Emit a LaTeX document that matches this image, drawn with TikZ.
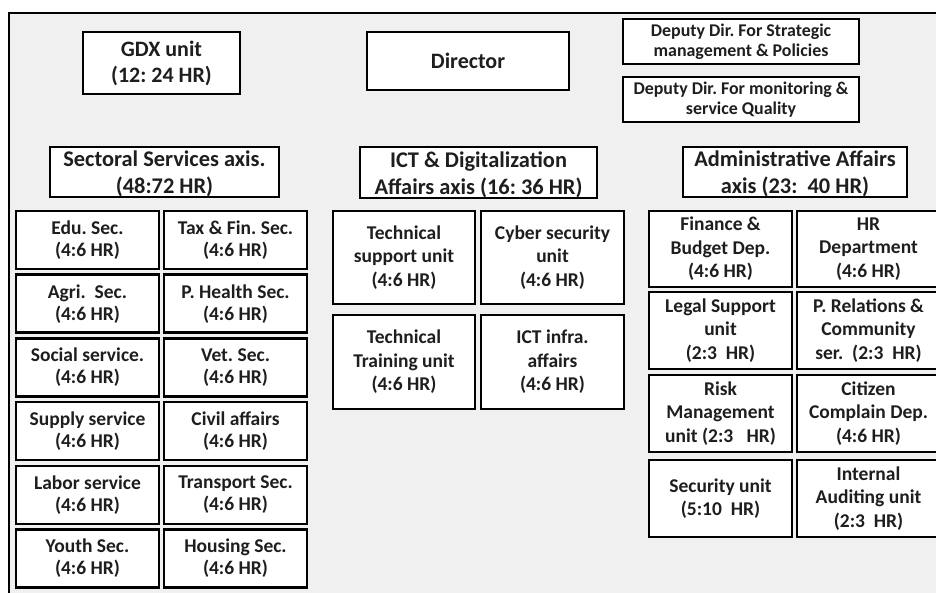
\documentclass[tikz,border=0pt]{standalone}
\usepackage{fontspec}
\setmainfont{Carlito}
\frenchspacing
\definecolor{panel}{HTML}{F0F0F0}
\definecolor{ink}{HTML}{1E1E1E}
\tikzset{
  unitbox/.style={draw=black, line width=2.5pt, fill=white, text=ink,
    align=center, inner sep=0pt, font=\bfseries},
  cellL/.style={unitbox, minimum width=143pt, minimum height=58pt,
    font=\fontsize{19.5}{22}\selectfont\bfseries},
  cellR/.style={unitbox, minimum width=143pt, minimum height=77pt,
    font=\fontsize{19.5}{23.5}\selectfont\bfseries},
  cellM/.style={unitbox, minimum width=142pt, minimum height=93pt,
    font=\fontsize{19.5}{23.5}\selectfont\bfseries},
  axisbox/.style={unitbox, minimum height=50pt},
  axistext/.style={text=ink, align=center, inner sep=0pt, yshift=-2pt,
    font=\fontsize{22.4}{27}\selectfont\bfseries},
  deputybox/.style={unitbox, minimum width=236pt, minimum height=45pt,
    font=\fontsize{17.9}{20}\selectfont\bfseries},
}
\begin{document}
\begin{tikzpicture}[x=1pt,y=-1pt]
\useasboundingbox (0,0) rectangle (936,593);
\clip (0,0) rectangle (936,593);
\fill[white] (0,0) rectangle (936,593);
% outer panel running off the right and bottom edges
\draw[line width=2.2pt, fill=panel] (9,13) rectangle (960,620);

% top row
\node[unitbox, minimum width=157pt, minimum height=62pt,
      font=\fontsize{22}{26}\selectfont\bfseries] (gdx) at (161.5,63) {GDX unit\\(12: 24 HR)};
\node[unitbox, minimum width=202pt, minimum height=58pt,
      font=\fontsize{22}{26}\selectfont\bfseries] (dir) at (468,61) {Director};
\node[deputybox] (dep1) at (741,41.5) {Deputy Dir. For Strategic\\management \& Policies};
\node[deputybox] (dep2) at (741,99.5) {Deputy Dir. For monitoring \&\\service Quality};

% axis headers: frame first, then its two-line title set slightly low
\node[axisbox, minimum width=229pt] (sect) at (164.5,172) {};
\node[axistext] (sectT) at (sect.center) {Sectoral Services axis.\\(48:72 HR)};
\node[axisbox, minimum width=237pt, minimum height=51pt] (ict) at (478.5,172.5) {};
\node[axistext] (ictT) at (ict.center) {ICT \& Digitalization\\Affairs axis (16: 36 HR)};
\node[axisbox, minimum width=224pt] (adm) at (795,172) {};
\node[axistext] (admT) at (adm.center) {Administrative Affairs\\axis (23:~ 40 HR)};

% sectoral services units
\node[cellL] (edu) at (87.5,240)   {Edu. Sec.\\(4:6 HR)};
\node[cellL] (tax) at (235.5,240)  {Tax \& Fin. Sec.\\(4:6 HR)};
\node[cellL] (agr) at (87.5,303.7) {Agri.~ Sec.\\(4:6 HR)};
\node[cellL] (phs) at (235.5,303.7){P. Health Sec.\\(4:6 HR)};
\node[cellL] (soc) at (87.5,367.4) {Social service.\\(4:6 HR)};
\node[cellL] (vet) at (235.5,367.4){Vet. Sec.\\(4:6 HR)};
\node[cellL] (sup) at (87.5,431.1) {Supply service\\(4:6 HR)};
\node[cellL] (civ) at (235.5,431.1){Civil affairs\\(4:6 HR)};
\node[cellL] (lab) at (87.5,494.8) {Labor service\\(4:6 HR)};
\node[cellL] (trn) at (235.5,494.8){Transport Sec.\\(4:6 HR)};
\node[cellL] (yth) at (87.5,558.5) {Youth Sec.\\(4:6 HR)};
\node[cellL] (hou) at (235.5,558.5){Housing Sec.\\(4:6 HR)};

% ICT units
\node[cellM] (tsu) at (404,257.5)  {Technical\\support unit\\(4:6 HR)};
\node[cellM, minimum width=143pt] (cyb) at (552.5,257.5) {Cyber security\\unit\\(4:6 HR)};
\node[cellM, minimum height=94pt] (ttu) at (404,362) {Technical\\Training unit\\(4:6 HR)};
\node[cellM, minimum width=143pt, minimum height=94pt] (inf) at (552.5,362) {ICT infra.\\affairs\\(4:6 HR)};

% administrative units
\node[cellR, minimum height=76pt] (fin) at (720.5,249) {Finance \&\\Budget Dep.\\(4:6 HR)};
\node[cellR, minimum height=76pt] (hrd) at (868.5,249) {HR\\Department\\(4:6 HR)};
\node[cellR] (leg) at (720.5,330.5) {Legal Support\\unit\\(2:3~ HR)};
\node[cellR] (pub) at (868.5,330.5) {P. Relations \&\\Community\\ser.~ (2:3~ HR)};
\node[cellR] (rsk) at (720.5,413.5) {Risk\\Management\\unit (2:3~~ HR)};
\node[cellR] (cit) at (868.5,413.5) {Citizen\\Complain Dep.\\(4:6 HR)};
\node[cellR] (sec) at (720.5,498.5) {Security unit\\(5:10~ HR)};
\node[cellR] (aud) at (868.5,498.5) {Internal\\Auditing unit\\(2:3~ HR)};
\end{tikzpicture}
\end{document}
